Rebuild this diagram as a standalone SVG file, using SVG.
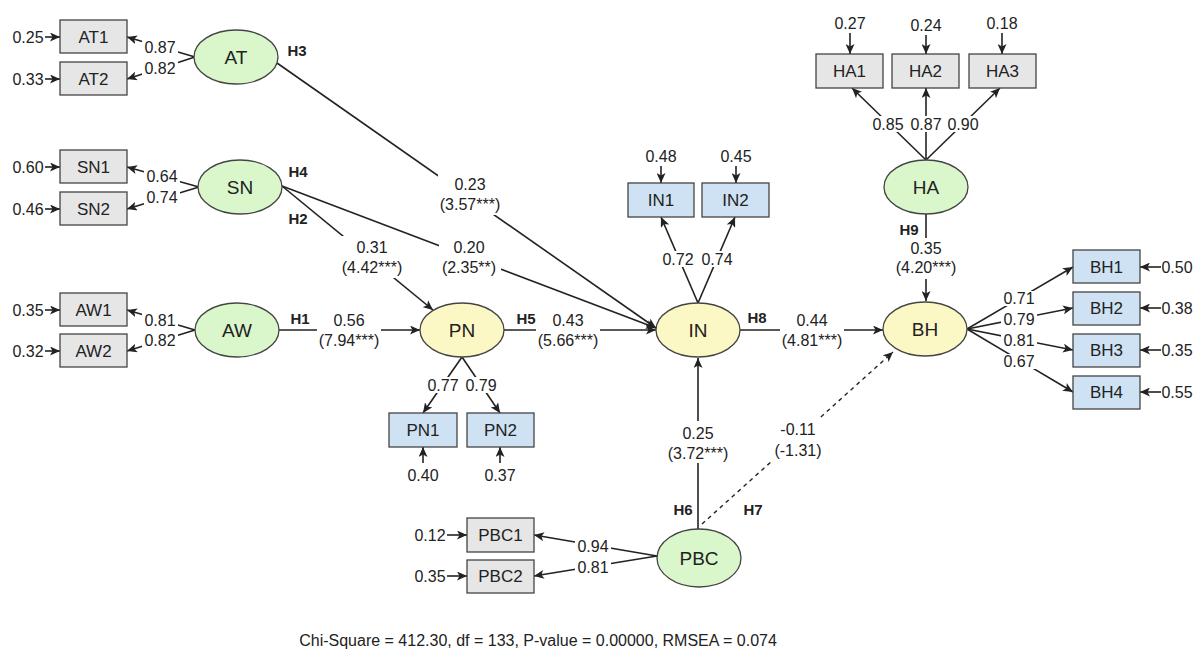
<svg xmlns="http://www.w3.org/2000/svg" width="1200" height="667" viewBox="0 0 1200 667">
<style>
text{font-family:"Liberation Sans",Arial,sans-serif;fill:#222;text-anchor:middle;dominant-baseline:central}
.n{font-size:16px}
.b{font-size:17px}
.e{font-size:19px}
.h{font-size:15px;font-weight:bold}
.t{font-size:16px}
.gray{fill:#e6e6e6;stroke:#444;stroke-width:1.3}
.blue{fill:#cfe2f3;stroke:#444;stroke-width:1.3}
.grn{fill:#daf7cc;stroke:#444;stroke-width:1.3}
.yel{fill:#fcf8c5;stroke:#444;stroke-width:1.3}
.c{stroke:#222;stroke-width:1.6;fill:none}
.a{stroke:#222;stroke-width:1.6;fill:none;marker-end:url(#ah)}
.d{stroke:#222;stroke-width:1.4;fill:none;stroke-dasharray:4 4;marker-end:url(#ah)}
.bg{fill:#fff}
</style>
<defs>
<marker id="ah" markerUnits="userSpaceOnUse" markerWidth="11" markerHeight="9" refX="10" refY="4.5" orient="auto">
<path d="M0,0 L10,4.5 L0,9 L2.5,4.5 Z" fill="#222"/>
</marker>
</defs>
<rect width="1200" height="667" fill="#fff"/>

<g id="connectors">
<!-- error arrows -->
<line class="a" x1="45" y1="37" x2="60" y2="37"/>
<line class="a" x1="45" y1="79" x2="60" y2="79"/>
<line class="a" x1="45" y1="167" x2="60" y2="167"/>
<line class="a" x1="45" y1="209" x2="60" y2="209"/>
<line class="a" x1="45" y1="310" x2="60" y2="310"/>
<line class="a" x1="45" y1="351" x2="60" y2="351"/>
<line class="a" x1="850" y1="33" x2="850" y2="54"/>
<line class="a" x1="926" y1="35" x2="926" y2="54"/>
<line class="a" x1="1002" y1="33" x2="1002" y2="54"/>
<line class="a" x1="661" y1="166" x2="661" y2="183"/>
<line class="a" x1="736" y1="166" x2="736" y2="183"/>
<line class="a" x1="423" y1="463" x2="423" y2="447"/>
<line class="a" x1="500" y1="463" x2="500" y2="447"/>
<line class="a" x1="1161" y1="267" x2="1140" y2="267"/>
<line class="a" x1="1161" y1="308" x2="1140" y2="308"/>
<line class="a" x1="1161" y1="350" x2="1140" y2="350"/>
<line class="a" x1="1161" y1="392" x2="1140" y2="392"/>
<line class="a" x1="447" y1="535" x2="467" y2="535"/>
<line class="a" x1="447" y1="576" x2="467" y2="576"/>
<!-- loadings -->
<line class="a" x1="195" y1="57" x2="127" y2="37"/>
<line class="a" x1="195" y1="57" x2="127" y2="79"/>
<line class="a" x1="199" y1="187" x2="127" y2="167"/>
<line class="a" x1="199" y1="187" x2="127" y2="209"/>
<line class="a" x1="195" y1="330" x2="127" y2="310"/>
<line class="a" x1="195" y1="330" x2="127" y2="351"/>
<line class="a" x1="926" y1="160" x2="852" y2="88"/>
<line class="a" x1="926" y1="160" x2="926" y2="88"/>
<line class="a" x1="926" y1="160" x2="1000" y2="88"/>
<line class="a" x1="698" y1="303" x2="661" y2="217"/>
<line class="a" x1="698" y1="303" x2="735" y2="217"/>
<line class="a" x1="462" y1="357" x2="423" y2="413"/>
<line class="a" x1="462" y1="357" x2="500" y2="413"/>
<line class="a" x1="967" y1="329" x2="1073" y2="267"/>
<line class="a" x1="967" y1="329" x2="1073" y2="308"/>
<line class="a" x1="967" y1="329" x2="1073" y2="350"/>
<line class="a" x1="967" y1="329" x2="1073" y2="392"/>
<line class="a" x1="657" y1="556" x2="534" y2="535"/>
<line class="a" x1="657" y1="556" x2="534" y2="576"/>
<!-- structural paths -->
<line class="a" x1="279" y1="330" x2="420" y2="330"/>
<line class="a" x1="504" y1="330" x2="656" y2="330"/>
<line class="a" x1="740" y1="330" x2="883" y2="330"/>
<line class="a" x1="282" y1="186" x2="433" y2="310"/>
<line class="a" x1="282" y1="186" x2="656" y2="328"/>
<line class="a" x1="277" y1="63" x2="656" y2="328"/>
<line class="a" x1="926" y1="214" x2="926" y2="301"/>
<line class="a" x1="698" y1="529" x2="698" y2="358"/>
<line class="d" x1="702" y1="524" x2="893" y2="352"/>
</g>

<g id="labels">
<!-- backgrounds -->
<rect class="bg" x="142" y="39" width="36" height="16"/>
<rect class="bg" x="142" y="60" width="36" height="16"/>
<rect class="bg" x="144" y="168" width="36" height="16"/>
<rect class="bg" x="144" y="189" width="36" height="16"/>
<rect class="bg" x="142" y="312" width="36" height="16"/>
<rect class="bg" x="142" y="332" width="36" height="16"/>
<rect class="bg" x="870" y="116" width="112" height="16"/>
<rect class="bg" x="660" y="251" width="76" height="16"/>
<rect class="bg" x="425" y="377" width="74" height="16"/>
<rect class="bg" x="1001" y="291" width="36" height="15"/>
<rect class="bg" x="1001" y="312" width="36" height="15"/>
<rect class="bg" x="1001" y="333" width="36" height="15"/>
<rect class="bg" x="1001" y="354" width="36" height="15"/>
<rect class="bg" x="575" y="538" width="36" height="16"/>
<rect class="bg" x="575" y="559" width="36" height="16"/>
<rect class="bg" x="317" y="310" width="64" height="40"/>
<rect class="bg" x="536" y="310" width="64" height="40"/>
<rect class="bg" x="780" y="310" width="64" height="40"/>
<rect class="bg" x="438" y="173" width="64" height="42"/>
<rect class="bg" x="439" y="236" width="62" height="42"/>
<rect class="bg" x="340" y="236" width="64" height="42"/>
<rect class="bg" x="894" y="238" width="64" height="41"/>
<rect class="bg" x="666" y="421" width="64" height="42"/>
<rect class="bg" x="772" y="418" width="52" height="42"/>
<!-- error variances -->
<text class="n" x="28" y="37">0.25</text>
<text class="n" x="28" y="79">0.33</text>
<text class="n" x="28" y="167">0.60</text>
<text class="n" x="28" y="209">0.46</text>
<text class="n" x="28" y="310">0.35</text>
<text class="n" x="28" y="351">0.32</text>
<text class="n" x="850" y="23">0.27</text>
<text class="n" x="926" y="25">0.24</text>
<text class="n" x="1002" y="23">0.18</text>
<text class="n" x="661" y="156">0.48</text>
<text class="n" x="736" y="156">0.45</text>
<text class="n" x="423" y="475">0.40</text>
<text class="n" x="500" y="475">0.37</text>
<text class="n" x="1177" y="267">0.50</text>
<text class="n" x="1177" y="308">0.38</text>
<text class="n" x="1177" y="350">0.35</text>
<text class="n" x="1177" y="392">0.55</text>
<text class="n" x="430" y="535">0.12</text>
<text class="n" x="430" y="576">0.35</text>
<!-- loadings -->
<text class="n" x="160" y="47">0.87</text>
<text class="n" x="160" y="68">0.82</text>
<text class="n" x="162" y="176">0.64</text>
<text class="n" x="162" y="197">0.74</text>
<text class="n" x="160" y="320">0.81</text>
<text class="n" x="160" y="340">0.82</text>
<text class="n" x="888" y="124">0.85</text>
<text class="n" x="926" y="124">0.87</text>
<text class="n" x="963" y="124">0.90</text>
<text class="n" x="678" y="259">0.72</text>
<text class="n" x="717" y="259">0.74</text>
<text class="n" x="443" y="385">0.77</text>
<text class="n" x="481" y="385">0.79</text>
<text class="n" x="1019" y="298">0.71</text>
<text class="n" x="1019" y="319">0.79</text>
<text class="n" x="1019" y="340">0.81</text>
<text class="n" x="1019" y="361">0.67</text>
<text class="n" x="593" y="546">0.94</text>
<text class="n" x="593" y="567">0.81</text>
<!-- structural -->
<text class="h" x="300" y="318">H1</text>
<text class="n" x="349" y="320">0.56</text>
<text class="n" x="349" y="340">(7.94***)</text>
<text class="h" x="526" y="318">H5</text>
<text class="n" x="568" y="320">0.43</text>
<text class="n" x="568" y="340">(5.66***)</text>
<text class="h" x="757" y="317">H8</text>
<text class="n" x="812" y="320">0.44</text>
<text class="n" x="812" y="340">(4.81***)</text>
<text class="h" x="297" y="50">H3</text>
<text class="n" x="470" y="184">0.23</text>
<text class="n" x="470" y="204">(3.57***)</text>
<text class="h" x="298" y="171">H4</text>
<text class="n" x="469" y="247">0.20</text>
<text class="n" x="469" y="267">(2.35**)</text>
<text class="h" x="298" y="218">H2</text>
<text class="n" x="372" y="247">0.31</text>
<text class="n" x="372" y="267">(4.42***)</text>
<text class="h" x="909" y="229">H9</text>
<text class="n" x="926" y="248">0.35</text>
<text class="n" x="926" y="267">(4.20***)</text>
<text class="h" x="683" y="509">H6</text>
<text class="n" x="698" y="433">0.25</text>
<text class="n" x="698" y="453">(3.72***)</text>
<text class="h" x="753" y="509">H7</text>
<text class="n" x="798" y="429">-0.11</text>
<text class="n" x="798" y="450">(-1.31)</text>
<text class="t" x="538" y="640">Chi-Square = 412.30, df = 133, P-value = 0.00000, RMSEA = 0.074</text>
</g>

<g id="AT1"><rect class="gray" x="60" y="20" width="67" height="33"/><text class="b" x="93.5" y="37">AT1</text></g>
<g id="AT2"><rect class="gray" x="60" y="62" width="67" height="33"/><text class="b" x="93.5" y="79">AT2</text></g>
<g id="SN1"><rect class="gray" x="60" y="150" width="67" height="33"/><text class="b" x="93.5" y="167">SN1</text></g>
<g id="SN2"><rect class="gray" x="60" y="192" width="67" height="33"/><text class="b" x="93.5" y="209">SN2</text></g>
<g id="AW1"><rect class="gray" x="60" y="293" width="67" height="33"/><text class="b" x="93.5" y="310">AW1</text></g>
<g id="AW2"><rect class="gray" x="60" y="334" width="67" height="33"/><text class="b" x="93.5" y="351">AW2</text></g>
<g id="HA1"><rect class="gray" x="816" y="54" width="67" height="34"/><text class="b" x="849.5" y="71">HA1</text></g>
<g id="HA2"><rect class="gray" x="892" y="54" width="67" height="34"/><text class="b" x="925.5" y="71">HA2</text></g>
<g id="HA3"><rect class="gray" x="969" y="54" width="67" height="34"/><text class="b" x="1002.5" y="71">HA3</text></g>
<g id="PBC1"><rect class="gray" x="467" y="518" width="67" height="34"/><text class="b" x="500.5" y="535">PBC1</text></g>
<g id="PBC2"><rect class="gray" x="467" y="560" width="67" height="33"/><text class="b" x="500.5" y="576.5">PBC2</text></g>
<g id="IN1"><rect class="blue" x="628" y="183" width="66" height="34"/><text class="b" x="661" y="200">IN1</text></g>
<g id="IN2"><rect class="blue" x="702" y="183" width="67" height="34"/><text class="b" x="735.5" y="200">IN2</text></g>
<g id="PN1"><rect class="blue" x="389" y="413" width="68" height="34"/><text class="b" x="423" y="430">PN1</text></g>
<g id="PN2"><rect class="blue" x="467" y="413" width="67" height="34"/><text class="b" x="500.5" y="430">PN2</text></g>
<g id="BH1"><rect class="blue" x="1073" y="250" width="67" height="33"/><text class="b" x="1106.5" y="267">BH1</text></g>
<g id="BH2"><rect class="blue" x="1073" y="292" width="67" height="33"/><text class="b" x="1106.5" y="308.5">BH2</text></g>
<g id="BH3"><rect class="blue" x="1073" y="334" width="67" height="33"/><text class="b" x="1106.5" y="350.5">BH3</text></g>
<g id="BH4"><rect class="blue" x="1073" y="376" width="67" height="33"/><text class="b" x="1106.5" y="392.5">BH4</text></g>

<g id="AT"><ellipse class="grn" cx="236" cy="57" rx="42" ry="27"/><text class="e" x="236" y="57">AT</text></g>
<g id="SN"><ellipse class="grn" cx="240" cy="187" rx="42" ry="27"/><text class="e" x="240" y="187">SN</text></g>
<g id="AW"><ellipse class="grn" cx="237" cy="330" rx="42" ry="27"/><text class="e" x="237" y="330">AW</text></g>
<g id="HA"><ellipse class="grn" cx="926" cy="187" rx="42" ry="27"/><text class="e" x="926" y="187">HA</text></g>
<g id="PBC"><ellipse class="grn" cx="699" cy="558" rx="42" ry="29"/><text class="e" x="699" y="558">PBC</text></g>
<g id="PN"><ellipse class="yel" cx="462" cy="330" rx="42" ry="27"/><text class="e" x="462" y="330">PN</text></g>
<g id="IN"><ellipse class="yel" cx="698" cy="330" rx="42" ry="27"/><text class="e" x="698" y="330">IN</text></g>
<g id="BH"><ellipse class="yel" cx="925" cy="329" rx="42" ry="27"/><text class="e" x="925" y="329">BH</text></g>
</svg>
